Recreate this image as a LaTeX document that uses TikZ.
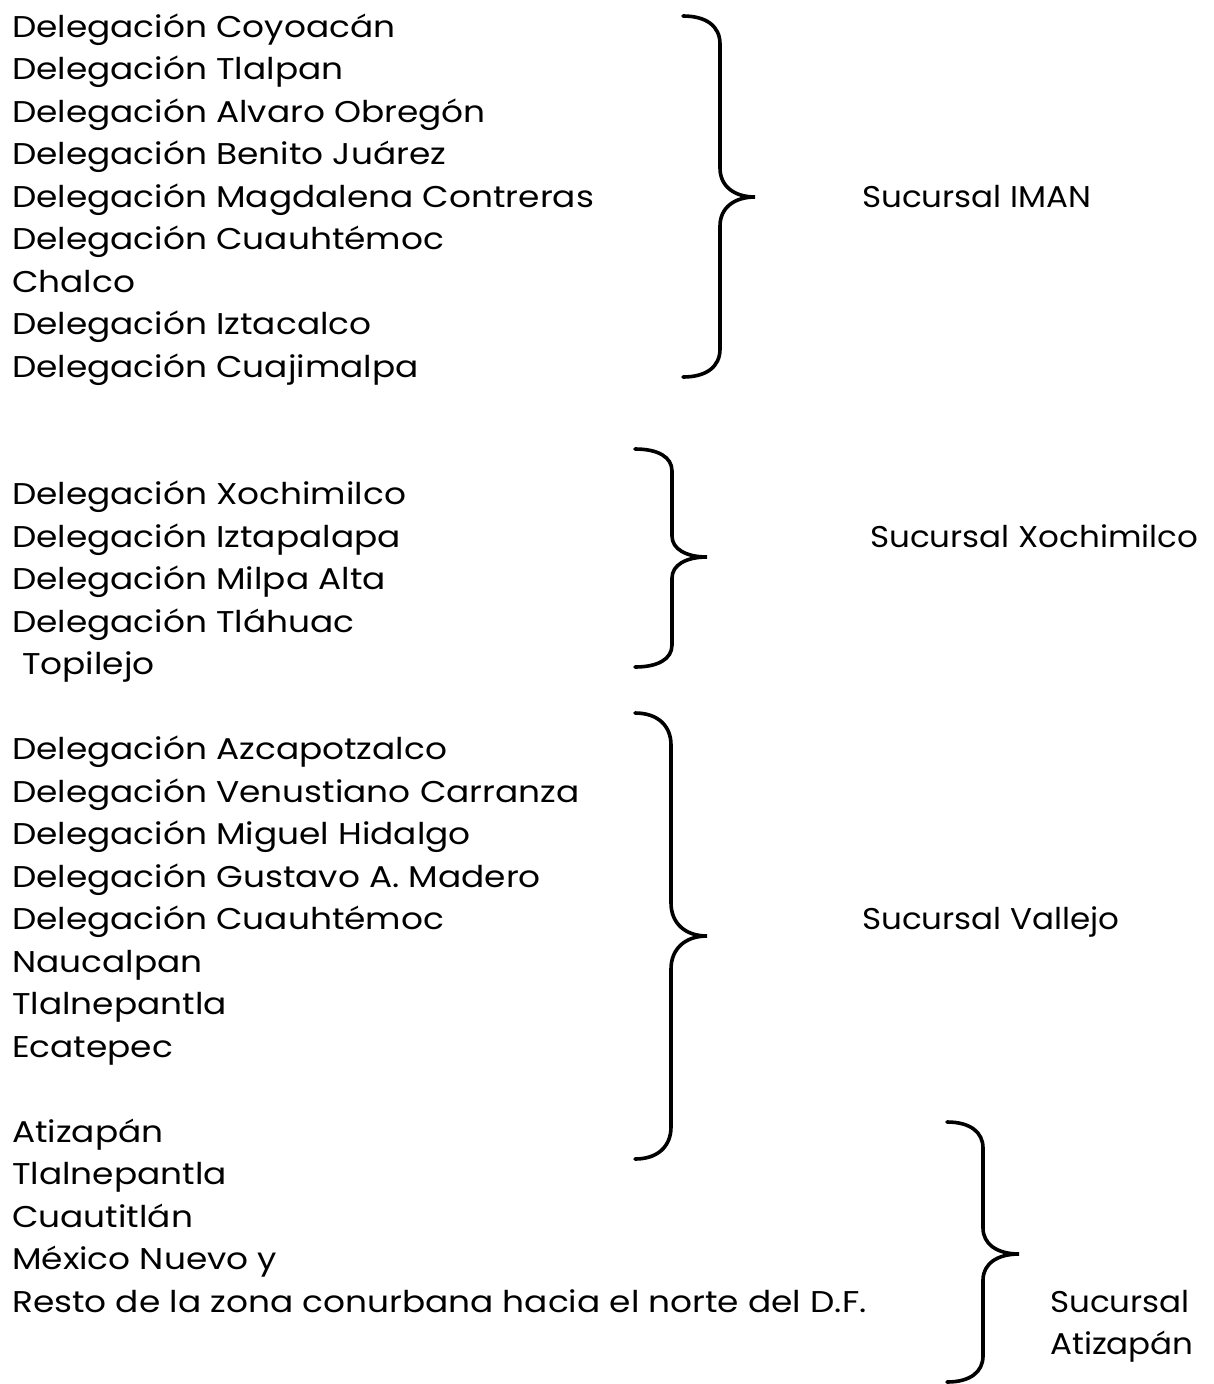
\documentclass[tikz,border=0pt]{standalone}
\usepackage{fontspec}
\setmainfont[FakeStretch=1.145]{Poppins}
\newfontfamily\lblfont[FakeStretch=1.085]{Poppins}
\begin{document}
\begin{tikzpicture}[x=1pt,y=-1pt,
  txt/.style={anchor=base west,inner sep=0pt,font=\fontsize{30}{30}\selectfont},
  lbl/.style={anchor=base west,inner sep=0pt,font=\lblfont\fontsize{30}{30}\selectfont},
  brace/.style={line width=3.6pt,line cap=round}]
\useasboundingbox (0,0) rectangle (1213,1384);
\def\by#1{37+42.5*#1}
% group 1
\node[txt] (a0) at (12,{\by{0}}) {Delegación Coyoacán};
\node[txt] (a1) at (12,{\by{1}}) {Delegación Tlalpan};
\node[txt] (a2) at (12,{\by{2}}) {Delegación Alvaro Obregón};
\node[txt] (a3) at (12,{\by{3}}) {Delegación Benito Juárez};
\node[txt] (a4) at (12,{\by{4}}) {Delegación Magdalena Contreras};
\node[txt] (a5) at (12,{\by{5}}) {Delegación Cuauhtémoc};
\node[txt] (a6) at (12,{\by{6}}) {Chalco};
\node[txt] (a7) at (12,{\by{7}}) {Delegación Iztacalco};
\node[txt] (a8) at (12,{\by{8}}) {Delegación Cuajimalpa};
\node[lbl] (sa) at (862,{\by{4}}) {Sucursal IMAN};
% group 2
\node[txt] (b0) at (12,{\by{11}}) {Delegación Xochimilco};
\node[txt] (b1) at (12,{\by{12}}) {Delegación Iztapalapa};
\node[txt] (b2) at (12,{\by{13}}) {Delegación Milpa Alta};
\node[txt] (b3) at (12,{\by{14}}) {Delegación Tláhuac};
\node[txt] (b4) at (22,{\by{15}}) {Topilejo};
\node[lbl] (sb) at (870,{\by{12}}) {Sucursal Xochimilco};
% group 3
\node[txt] (c0) at (12,{\by{17}}) {Delegación Azcapotzalco};
\node[txt] (c1) at (12,{\by{18}}) {Delegación Venustiano Carranza};
\node[txt] (c2) at (12,{\by{19}}) {Delegación Miguel Hidalgo};
\node[txt] (c3) at (12,{\by{20}}) {Delegación Gustavo A. Madero};
\node[txt] (c4) at (12,{\by{21}}) {Delegación Cuauhtémoc};
\node[txt] (c5) at (12,{\by{22}}) {Naucalpan};
\node[txt] (c6) at (12,{\by{23}}) {Tlalnepantla};
\node[txt] (c7) at (12,{\by{24}}) {Ecatepec};
\node[lbl] (sc) at (862,{\by{21}}) {Sucursal Vallejo};
% group 4
\node[txt] (d0) at (12,{\by{26}}) {Atizapán};
\node[txt] (d1) at (12,{\by{27}}) {Tlalnepantla};
\node[txt] (d2) at (12,{\by{28}}) {Cuautitlán};
\node[txt] (d3) at (12,{\by{29}}) {México Nuevo y};
\node[txt] (d4) at (12,{\by{30}}) {Resto de la zona conurbana hacia el norte del D.F.};
\node[lbl] (sd1) at (1050,{\by{30}}) {Sucursal};
\node[lbl] (sd2) at (1050,{\by{31}}) {Atizapán};
% braces
\draw[brace] (683,16) .. controls (706,16) and (720,26) .. (720,44) -- (720,168)
  .. controls (720,186) and (734,197) .. (755,197) .. controls (734,197) and (720,208) .. (720,226)
  -- (720,349) .. controls (720,367) and (706,377) .. (683,377);
\draw[brace] (635,449) .. controls (658,449) and (672,457) .. (672,471) -- (672,536)
  .. controls (672,549) and (686,557) .. (707,557) .. controls (686,557) and (672,565) .. (672,578)
  -- (672,645) .. controls (672,659) and (658,667) .. (635,667);
\draw[brace] (635,713) .. controls (658,713) and (671,726) .. (671,745) -- (671,903)
  .. controls (671,923) and (685,936) .. (707,936) .. controls (685,936) and (671,949) .. (671,969)
  -- (671,1127) .. controls (671,1146) and (658,1159) .. (635,1159);
\draw[brace] (947,1122) .. controls (970,1122) and (983,1132) .. (983,1148) -- (983,1228)
  .. controls (983,1244) and (997,1254) .. (1019,1254) .. controls (997,1254) and (983,1264) .. (983,1280)
  -- (983,1356) .. controls (983,1372) and (970,1382) .. (947,1382);
\end{tikzpicture}
\end{document}
